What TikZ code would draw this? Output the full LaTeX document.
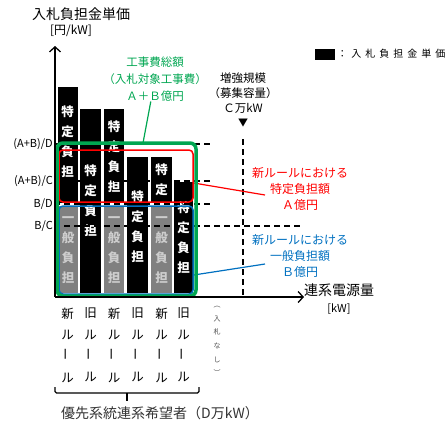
\documentclass[tikz,border=0pt]{standalone}
\usepackage{fontspec}
\setmainfont{Noto Sans CJK JP}
\newfontfamily\keyfont{Noto Sans CJK JP}[LetterSpace=40]
\usetikzlibrary{positioning,arrows.meta}
\definecolor{totalgreen}{RGB}{0,166,81}
\definecolor{newred}{RGB}{255,0,0}
\definecolor{newblue}{RGB}{0,112,192}
\definecolor{generalgray}{RGB}{128,128,128}
\definecolor{generaltext}{RGB}{205,205,205}

\begin{document}
\begin{tikzpicture}
    [ x = 1pt, y = -1pt
    , axis/.style =
      { line width=1.3pt, -{Straight Barb[length=5pt,width=11pt]} }
    , level/.style =
      { line width=1.3pt, dash pattern=on 6pt off 4pt }
    , tick/.style =
      { anchor=east, inner sep=1pt, font=\fontsize{11}{11}\selectfont }
    , special/.style =
      { fill=black }
    , general/.style =
      { fill=generalgray }
    , bartext/.style =
      { white, align=center, inner sep=0pt, font=\fontsize{12.5}{20}\selectfont\bfseries }
    , gentext/.style =
      { bartext, text=generaltext }
    , box/.style =
      { draw, rounded corners=4pt, inner sep=0pt, line width=1.5pt }
    , note/.style =
      { align=center, inner sep=0pt, font=\fontsize{12}{16}\selectfont }
    , coltext/.style =
      { align=center, inner sep=0pt, font=\fontsize{12.5}{21.3}\selectfont }
    , brace/.style =
      { line width=1.3pt, rounded corners=1.5pt }
    ]
    \useasboundingbox (0,0) rectangle (446,421);

    % axis labels
    \node [font=\fontsize{14}{14}\selectfont] (ylabel) at (81,14) {入札負担金単価};
    \node [font=\fontsize{12}{12}\selectfont] (yunit) at (71,31) {[円/kW]};
    \node [font=\fontsize{14}{14}\selectfont] (xlabel) at (339,290) {連系電源量};
    \node [font=\fontsize{11}{11}\selectfont] (xunit) [below=0pt of xlabel] {[kW]};

    % legend
    \node [special, minimum width=20pt, minimum height=11pt, inner sep=0pt] (key) at (325,54) {};
    \node [inner sep=0pt, font=\fontsize{10}{10}\selectfont\keyfont] (keytxt) [right=2pt of key] {：入札負担金単価};

    % bars
    \foreach \l/\r/\t/\b in {58/78/87/203, 80/101/109/293, 104/124/109/203, 127/148/157/293, 151/172/157/203, 174/193/182/293}
      \fill [special] (\l,\t) rectangle (\r,\b);
    \foreach \l/\r in {58/78, 104/124, 151/172}
      \fill [general] (\l,206) rectangle (\r,293);

    \node [bartext] (s1) at (67.5,142) {特\\定\\負\\担};
    \node [bartext] (s2) at (90.5,201) {特\\定\\負\\担};
    \node [bartext] (s3) at (114,157) {特\\定\\負\\担};
    \node [bartext] (s4) at (137.5,227) {特\\定\\負\\担};
    \node [bartext] (s5) at (161.5,180) {特\\定};
    \node [bartext] (s6) at (183.5,238) {特\\定\\負\\担};
    \foreach \n/\x in {g1/68, g3/114, g5/161.5}
      \node [gentext] (\n) at (\x,250) {一\\般\\負\\担};

    % levels
    \node [tick] (abd) at (54,144) {(A+B)/D};
    \node [tick] (abc) at (54,181) {(A+B)/C};
    \node [tick] (bd) at (54,204) {B/D};
    \node [tick] (bc) at (54,226) {B/C};
    \coordinate (abdend) at (212,144);
    \coordinate (abcend) at (212,181);
    \coordinate (bdend) at (212,204);
    \coordinate (bcend) at (301,226);
    \draw [level] (abd.east) -- (abdend);
    \draw [level] (abc.east) -- (abcend);
    \draw [level] (bd.east) -- (bdend);
    \draw [level] (bc.east) -- (bcend);

    % capacity
    \node [note, font=\fontsize{11.5}{15}\selectfont] (cap) at (243,93) {増強規模\\（募集容量）\\Ｃ万kW};
    \node [inner sep=0pt, font=\fontsize{10}{10}\selectfont] (capmark) at (243,123) {▼};
    \coordinate (captop) at (243,139);
    \coordinate (capfoot) at (243,297);
    \draw [level] (captop) -- (capfoot);

    % amounts
    \node [box, newred, minimum width=134pt, minimum height=52pt] (rbox) at (126,176) {};
    \node [box, newblue, minimum width=134pt, minimum height=88pt] (bbox) at (126,250) {};
    \node [note, newred] (rtxt) at (300,189) {新ルールにおける\\特定負担額\\Ａ億円};
    \node [note, newblue] (btxt) at (300,256) {新ルールにおける\\一般負担額\\Ｂ億円};
    \coordinate (rfoot) at (265,195);
    \coordinate (bfoot) at (265,264);
    \draw [newred, line width=1.2pt] ([yshift=-7pt]rbox.east) -- (rfoot);
    \draw [newblue, line width=1.2pt] ([yshift=-25pt]bbox.east) -- (bfoot);

    \node [box, totalgreen, line width=3.5pt, rounded corners=6pt, minimum width=139pt, minimum height=153pt] (gbox) at (126.5,219.5) {};
    \node [note, totalgreen, font=\fontsize{11.5}{17}\selectfont] (gtxt) at (155,79) {工事費総額\\（入札対象工事費）\\Ａ＋Ｂ億円};
    \coordinate (gfoot) at (143,143);
    \draw [totalgreen, line width=1.2pt] (gtxt) -- (gfoot);

    % axes
    \coordinate (O) at (55,297);
    \coordinate (ytop) at (55,46);
    \coordinate (xend) at (304,297);
    \draw [axis] (O) -- (ytop);
    \draw [axis] (O) -- (xend);

    % applicants
    \foreach \n/\x/\c in {c1/67.5/新, c2/90.5/旧, c3/114/新, c4/137.5/旧, c5/161.5/新, c6/183.5/旧}
      \node [coltext] (\n) at (\x,345) {\c\\ル\\\rotatebox{90}{ー}\\ル};
    \node [align=center, inner sep=0pt, text=black!70, font=\fontsize{7}{13.6}\selectfont] (nobid) at (217,341) {︵\\入\\札\\な\\し\\︶};

    \coordinate (bl) at (55,387);
    \coordinate (br) at (199,387);
    \coordinate (bc) at (127,393);
    \coordinate (bmid) at (127,401);
    \draw [brace] (bl) |- (bc) -| (br);
    \draw [brace] (bc) -- (bmid);
    \node [text=black!80, font=\fontsize{14}{14}\selectfont] (group) at (160,413) {優先系統連系希望者（D万kW）};
\end{tikzpicture}
\end{document}
